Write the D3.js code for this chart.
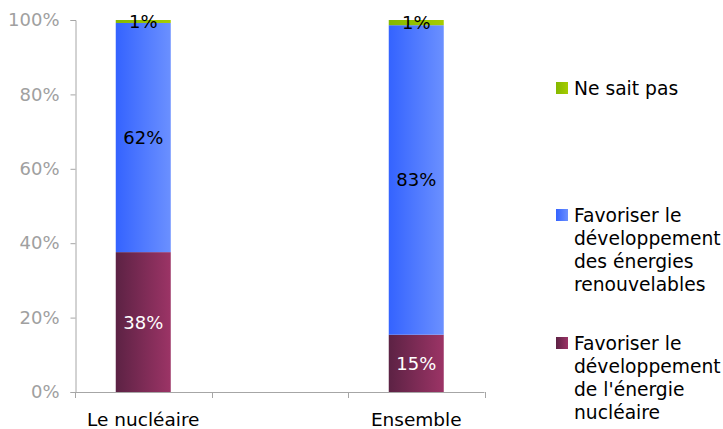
<!DOCTYPE html>
<html><head><meta charset="utf-8">
<script src="https://cdn.jsdelivr.net/npm/d3@7"></script>
<style>body{margin:0;background:#fff}svg{display:block;font-family:"DejaVu Sans",Verdana,sans-serif}</style>
</head><body><svg id="c" width="723" height="429"></svg>
<script>
const categories = ["Le nucléaire", "Ensemble"];
const seriesNames = ["Favoriser le développement de l'énergie nucléaire", "Favoriser le développement des énergies renouvelables", "Ne sait pas"];
const nucleaire = [37.6, 15.4];
const renouvelables = [61.6, 83.2];
const neSaitPas = [0.8, 1.4];
const yTicks = [0, 20, 40, 60, 80, 100];
const legendLines = [["Ne sait pas"], ["Favoriser le", "développement", "des énergies", "renouvelables"], ["Favoriser le", "développement", "de l'énergie", "nucléaire"]];

const keys = ["nuc", "ren", "nsp"];
const rows = categories.map((c, i) => ({cat: c, nuc: nucleaire[i], ren: renouvelables[i], nsp: neSaitPas[i]}));
const stack = d3.stack().keys(keys)(rows);

const svg = d3.select("#c");
const defs = svg.append("defs");
const grads = {nuc: ["#5c2244", "#9c3466"], ren: ["#3463ff", "#6b90ff"], nsp: ["#84b800", "#a6cc00"]};
keys.forEach(k => {
  const g = defs.append("linearGradient").attr("id", "g-" + k).attr("x1", 0).attr("x2", 1).attr("y1", 0).attr("y2", 0);
  g.append("stop").attr("offset", "0%").attr("stop-color", grads[k][0]);
  g.append("stop").attr("offset", "100%").attr("stop-color", grads[k][1]);
});

const x = d3.scaleBand().domain([categories[0], "__gap__", categories[1]]).range([75, 484.5]).paddingInner(0).paddingOuter(0);
const y = d3.scaleLinear().domain([0, 100]).range([392, 20]);
const bw = 55;
const axisColor = "#a6a6a6";

// y axis
const ya = svg.append("g").attr("transform", "translate(75.5,0)")
  .call(d3.axisLeft(y).tickValues(yTicks).tickFormat(d => d + "%").tickSize(5).tickPadding(11));
ya.select(".domain").attr("stroke", axisColor);
ya.selectAll(".tick line").attr("stroke", axisColor);
ya.selectAll(".tick text").attr("fill", "#a0a0a0").attr("font-size", 18).attr("font-family", "DejaVu Sans");

// bars
const layer = svg.append("g");
stack.forEach(s => {
  layer.selectAll(null).data(s).join("rect")
    .attr("x", d => x(d.data.cat) + x.bandwidth() / 2 - bw / 2)
    .attr("width", bw)
    .attr("y", d => y(d[1]))
    .attr("height", d => y(d[0]) - y(d[1]))
    .attr("fill", "url(#g-" + s.key + ")");
});
// labels
stack.forEach(s => {
  layer.selectAll(null).data(s).join("text")
    .attr("x", d => x(d.data.cat) + x.bandwidth() / 2)
    .attr("y", d => (y(d[0]) + y(d[1])) / 2)
    .attr("dy", "0.36em")
    .attr("text-anchor", "middle")
    .attr("font-size", 18)
    .attr("fill", s.key === "nuc" ? "#fff" : "#000")
    .text(d => d3.format(".0f")(d[1] - d[0]) + "%");
});

// x axis
const xg = svg.append("g");
xg.append("line").attr("x1", 75).attr("x2", 484.5).attr("y1", 392.5).attr("y2", 392.5).attr("stroke", axisColor);
const bounds = x.domain().map(d => x(d)).concat([x.range()[1]]);
xg.selectAll(null).data(bounds).join("line")
  .attr("x1", d => Math.round(d) + 0.5).attr("x2", d => Math.round(d) + 0.5)
  .attr("y1", 392).attr("y2", 398).attr("stroke", axisColor);
xg.selectAll(null).data(categories).join("text")
  .attr("x", d => x(d) + x.bandwidth() / 2)
  .attr("y", 426)
  .attr("text-anchor", "middle")
  .attr("font-size", 18.5)
  .attr("fill", "#000")
  .text(d => d);

// legend
const legY = [95, 222, 350];
const legKeys = ["nsp", "ren", "nuc"];
legendLines.forEach((lines, i) => {
  const g = svg.append("g");
  g.append("rect").attr("x", 556).attr("y", legY[i] - 13).attr("width", 12).attr("height", 12).attr("fill", "url(#g-" + legKeys[i] + ")");
  g.selectAll(null).data(lines).join("text")
    .attr("x", 574).attr("y", (d, j) => legY[i] + j * 23)
    .attr("font-size", 18.7).attr("fill", "#000").text(d => d);
});
</script></body></html>
